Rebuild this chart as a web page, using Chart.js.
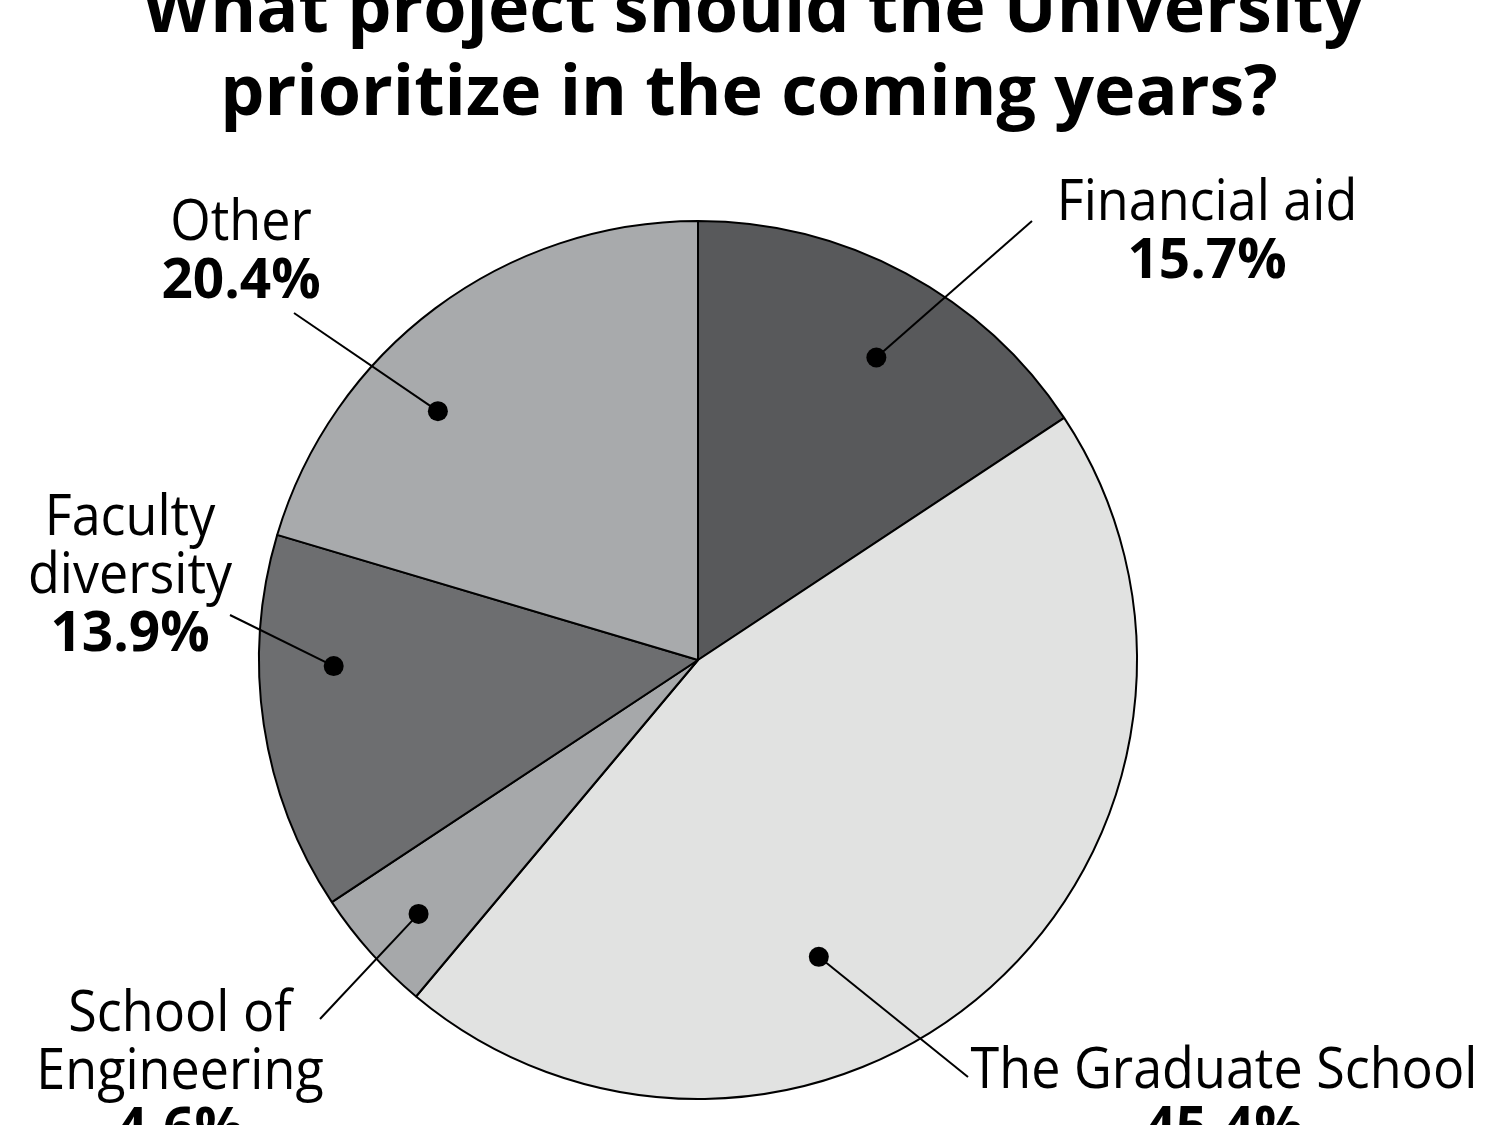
<!DOCTYPE html>
<html>
<head>
<meta charset="utf-8">
<script src="https://cdn.jsdelivr.net/npm/chart.js@4.4.1/dist/chart.umd.min.js"></script>
<style>
  html, body { margin: 0; padding: 0; background: #ffffff; }
  #wrap { width: 1500px; height: 1125px; position: relative; }
</style>
</head>
<body>
<div id="wrap"><canvas id="pieChart"></canvas></div>
<script>
// Survey answers, clockwise from 12 o'clock
var categories = ['Financial aid', 'The Graduate School', 'School of Engineering', 'Faculty diversity', 'Other'];
var shares = [15.7, 45.4, 4.6, 13.9, 20.4];
var sliceColors = ['#58595b', '#e1e2e1', '#a6a8aa', '#6d6e70', '#a8aaac'];
var labelLines = [['Financial aid'], ['The Graduate School'], ['School of', 'Engineering'], ['Faculty', 'diversity'], ['Other']];
var titleLines = ['What project should the University', 'prioritize in the coming years?'];

// where the callout dot sits inside each slice (fraction of sweep, fraction of radius)
var dotSweep = [0.54, 0.62, 0.47, 0.65, 0.37];
var dotRadius = [0.80, 0.73, 0.86, 0.83, 0.82];
// label block: centre x, first baseline y, and where the leader line ends
var labelSpots = [
    { x: 1207, y: 220, lx: 1032, ly: 221 },
    { x: 1224, y: 1088, lx: 968, ly: 1077 },
    { x: 180, y: 1031, lx: 320, ly: 1019 },
    { x: 130, y: 535, lx: 230, ly: 615 },
    { x: 241, y: 240, lx: 294, ly: 313 }
];

var labelFont = "'Open Sans', 'DejaVu Sans', sans-serif";

function squeezedText(ctx, text, x, y, k) {
    ctx.save();
    ctx.translate(x, y);
    ctx.scale(k, 1);
    ctx.fillText(text, 0, 0);
    ctx.restore();
}

var calloutPlugin = {
    id: 'callouts',
    afterDraw: function (chart) {
        var ctx = chart.ctx;
        ctx.save();
        ctx.fillStyle = '#000000';
        ctx.strokeStyle = '#000000';
        ctx.textAlign = 'center';
        ctx.textBaseline = 'alphabetic';

        // title (top line runs off the top edge)
        ctx.font = "bold 70px " + labelFont;
        squeezedText(ctx, titleLines[0], 753, 32, 1.0);
        squeezedText(ctx, titleLines[1], 749, 115, 1.0);

        var arcs = chart.getDatasetMeta(0).data;
        arcs.forEach(function (arc, i) {
            var p = arc.getProps(['x', 'y', 'startAngle', 'endAngle', 'outerRadius'], true);
            var a = p.startAngle + (p.endAngle - p.startAngle) * dotSweep[i];
            var r = p.outerRadius * dotRadius[i];
            var dx = p.x + Math.cos(a) * r;
            var dy = p.y + Math.sin(a) * r;
            var spot = labelSpots[i];

            ctx.lineWidth = 2;
            ctx.beginPath();
            ctx.moveTo(dx, dy);
            ctx.lineTo(spot.lx, spot.ly);
            ctx.stroke();
            ctx.beginPath();
            ctx.arc(dx, dy, 10, 0, Math.PI * 2);
            ctx.fill();

            var lines = labelLines[i];
            ctx.font = "56px " + labelFont;
            for (var j = 0; j < lines.length; j++) {
                squeezedText(ctx, lines[j], spot.x, spot.y + j * 58, 0.93);
            }
            ctx.font = "bold 56px " + labelFont;
            squeezedText(ctx, shares[i].toFixed(1) + '%', spot.x, spot.y + lines.length * 58, 0.98);
        });
        ctx.restore();
    }
};

var ctx = document.getElementById('pieChart');
var chart = new Chart(ctx, {
    type: 'pie',
    data: {
        labels: categories,
        datasets: [{
            label: 'Share of responses',
            data: shares,
            backgroundColor: sliceColors,
            borderColor: '#000000',
            borderWidth: 2
        }]
    },
    options: {
        responsive: true,
        maintainAspectRatio: false,
        animation: false,
        layout: {
            padding: { left: 258, right: 362, top: 220, bottom: 25 }
        },
        plugins: {
            legend: { display: false },
            tooltip: { enabled: false },
            title: { display: false }
        }
    },
    plugins: [calloutPlugin]
});
</script>
</body>
</html>
